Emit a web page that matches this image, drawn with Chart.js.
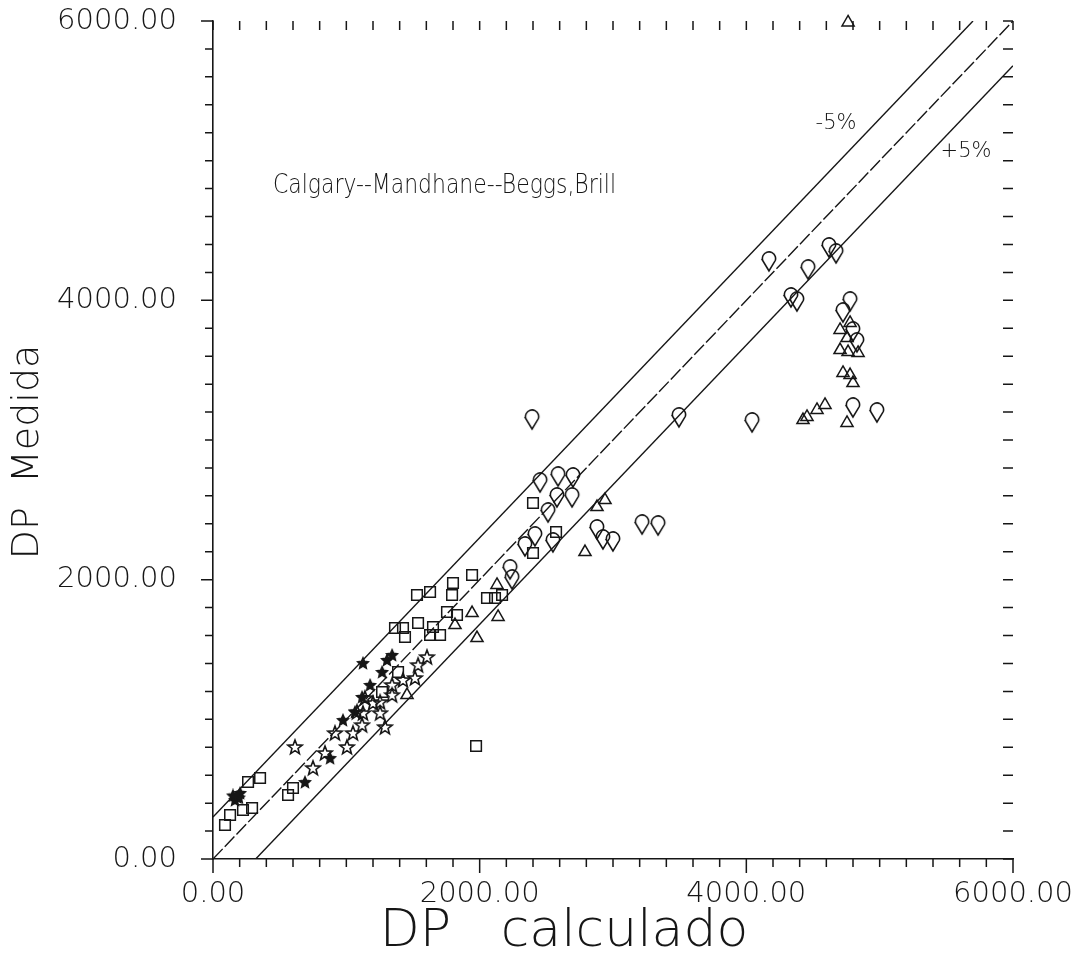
<!DOCTYPE html>
<html>
<head>
<meta charset="utf-8">
<script src="https://cdn.jsdelivr.net/npm/chart.js@4.4.1/dist/chart.umd.min.js"></script>
<style>
  html, body { margin: 0; padding: 0; background: #fff; }
  #wrap { width: 1072px; height: 957px; }
</style>
</head>
<body>
<div id="wrap"><canvas id="c" width="1072" height="957"></canvas></div>
<script>
// ---------------------------------------------------------------------------
// data  (DP calculado, DP medida)
// ---------------------------------------------------------------------------
const dropPts = [
  [2393, 3143], [2453, 2692], [2588, 2735], [2700, 2728], [2693, 2585],
  [2580, 2585], [2513, 2477], [2550, 2263], [2228, 2070], [2243, 1998],
  [2880, 2356], [2925, 2284], [3000, 2270], [3218, 2391], [3338, 2384],
  [3495, 3158], [4043, 3122], [4170, 4275], [4463, 4217], [4620, 4375],
  [4673, 4332], [4335, 4017], [4380, 3988], [4778, 3988], [4800, 3229],
  [4980, 3193], [2415, 2306], [2340, 2234], [4725, 3909], [4800, 3773],
  [4830, 3695]
];
const trianglePts = [
  [4763, 5990], [4703, 3644], [4763, 3630], [4838, 3623], [4725, 3480],
  [4778, 3465], [4800, 3408], [4590, 3251], [4530, 3215], [4755, 3122],
  [4455, 3165], [4425, 3143], [4703, 3788], [4755, 3730], [4778, 3838],
  [2790, 2198], [2940, 2570], [2880, 2520], [2130, 1962], [1815, 1675],
  [1943, 1761], [1980, 1582], [2138, 1733], [1455, 1174]
];
const squarePts = [
  [1973, 809], [1943, 2033], [1800, 1976], [1628, 1912], [1530, 1890],
  [1793, 1890], [1755, 1769], [1830, 1747], [1538, 1690], [1365, 1654],
  [1425, 1654], [1440, 1590], [1650, 1661], [1703, 1604], [1628, 1604],
  [2055, 1869], [2115, 1869], [2168, 1890], [2400, 2549], [2573, 2341],
  [2400, 2191], [1388, 1339], [1268, 1196], [90, 243], [128, 315],
  [225, 351], [263, 551], [353, 580], [293, 365], [563, 458], [600, 508]
];
const starPts = [
  [615, 802], [750, 652], [840, 759], [915, 902], [1005, 802],
  [1050, 902], [1080, 1053], [1125, 1045], [1253, 1045], [1290, 945],
  [1605, 1446], [1538, 1389], [1515, 1296], [1425, 1282], [1343, 1174],
  [1253, 1124], [1140, 1153], [1118, 959], [1343, 1246], [1200, 1117]
];
const filledPts = [
  [180, 444], [165, 422], [203, 473], [195, 440], [150, 455],
  [690, 551], [975, 995], [1065, 1053], [1118, 1160], [1178, 1246],
  [1268, 1339], [1305, 1425], [1343, 1461], [1125, 1403], [878, 723]
];
// reference lines: y = x and the -5% / +5% bands
const lineCenter = [[0, 0], [6000, 6000]];
const lineUpper = [[0, 300], [5700, 6000]];
const lineLower = [[320, 0], [6000, 5680]];

const axisMin = 0, axisMax = 6000, tickStep = 200, labelStep = 2000;

// ---------------------------------------------------------------------------
const INK = '#161616';
const FONT = '"DejaVu Sans", "Liberation Sans", sans-serif';

function toXY(list) { return list.map(p => ({ x: p[0], y: p[1] })); }

function makeSprite(w, h, draw) {
  const cv = document.createElement('canvas');
  cv.width = w; cv.height = h;
  const g = cv.getContext('2d');
  g.strokeStyle = INK; g.fillStyle = INK; g.lineWidth = 1.6;
  draw(g);
  return cv;
}

// the "shield" marker: round top, pointed bottom
const dropSprite = makeSprite(18, 22, g => {
  g.beginPath();
  g.moveTo(9, 20);
  g.lineTo(2.6, 9.5);
  g.arc(9, 7.5, 6.6, Math.PI * 0.9, Math.PI * 2.1);
  g.closePath();
  g.stroke();
});

function starPath(g, cx, cy, ro, ri) {
  g.beginPath();
  for (let i = 0; i < 10; i++) {
    const r = i % 2 ? ri : ro;
    const a = -Math.PI / 2 + i * Math.PI / 5;
    g.lineTo(cx + r * Math.cos(a), cy + r * Math.sin(a));
  }
  g.closePath();
}
const starSprite = makeSprite(18, 18, g => { starPath(g, 9, 9.5, 7.5, 3.2); g.stroke(); });
const filledSprite = makeSprite(14, 14, g => { starPath(g, 7, 7.5, 5.6, 2.6); g.fill(); g.stroke(); });

const refLine = (data, dash) => ({
  type: 'line', data: toXY(data), showLine: true, borderColor: INK,
  borderWidth: 1.4, borderDash: dash, pointRadius: 0, fill: false, order: 2
});
const marks = (data, style, radius) => ({
  data: toXY(data), pointStyle: style, pointRadius: radius,
  pointBorderColor: INK, pointBackgroundColor: 'rgba(0,0,0,0)',
  pointBorderWidth: 1.5, showLine: false, clip: false, order: 1
});

// ticks on all four sides + free texts
const framePlugin = {
  id: 'frame',
  afterDraw(chart) {
    const { ctx, chartArea: a, scales: { x, y } } = chart;
    ctx.save();
    ctx.strokeStyle = INK;
    ctx.lineWidth = 1.5;
    ctx.beginPath();
    for (let v = axisMin; v <= axisMax; v += tickStep) {
      const major = v % labelStep === 0;
      const px = x.getPixelForValue(v);
      const py = y.getPixelForValue(v);
      // bottom (outward), top (inward)
      ctx.moveTo(px, a.bottom); ctx.lineTo(px, a.bottom + (major ? 14 : 8));
      ctx.moveTo(px, a.top); ctx.lineTo(px, a.top + 9);
      // left (outward), right (inward)
      ctx.moveTo(a.left, py); ctx.lineTo(a.left - (major ? 12 : 8), py);
      ctx.moveTo(a.right, py); ctx.lineTo(a.right - 10, py);
    }
    ctx.stroke();

    ctx.fillStyle = INK;
    ctx.textBaseline = 'middle';
    ctx.textAlign = 'left';
    ctx.font = '200 27px ' + FONT;
    const ann = 'Calgary--Mandhane--Beggs,Brill';
    const w = ctx.measureText(ann).width;
    ctx.save();
    ctx.translate(273, 186);
    ctx.scale(343 / w, 1);
    ctx.fillText(ann, 0, 0);
    ctx.restore();

    ctx.font = '200 21px ' + FONT;
    ctx.textAlign = 'center';
    ctx.fillText('-5%', 836, 124);
    ctx.fillText('+5%', 966, 152);

    // axis titles
    ctx.font = '200 52px ' + FONT;
    ctx.fillText('DP   calculado', 564, 932);
    ctx.save();
    ctx.translate(28, 452);
    ctx.rotate(-Math.PI / 2);
    ctx.font = '200 38px ' + FONT;
    ctx.fillText('DP  Medida', 0, 0);
    ctx.restore();
    ctx.restore();
  }
};

const tickCfg = (pad) => ({
  stepSize: tickStep, autoSkip: false, maxRotation: 0, padding: pad,
  color: INK, font: { family: FONT, size: 29, weight: '200' },
  callback: v => (v % labelStep === 0 ? v.toFixed(2) : '')
});

new Chart(document.getElementById('c'), {
  type: 'scatter',
  data: {
    datasets: [
      refLine(lineUpper, []),
      refLine(lineCenter, [14, 3]),
      refLine(lineLower, []),
      marks(squarePts, 'rect', 7.5),
      marks(trianglePts, 'triangle', 7),
      marks(dropPts, dropSprite, 8),
      marks(starPts, starSprite, 7),
      marks(filledPts, filledSprite, 6)
    ]
  },
  options: {
    responsive: false,
    animation: false,
    layout: { padding: { top: 21, right: 59, left: 0, bottom: 0 } },
    plugins: { legend: { display: false }, tooltip: { enabled: false } },
    scales: {
      x: {
        type: 'linear', min: axisMin, max: axisMax,
        grid: { display: false, drawTicks: false },
        border: { display: true, color: INK, width: 1.6 },
        ticks: tickCfg(18),
        afterFit: s => { s.height = 98; s.paddingLeft = 0; s.paddingRight = 0; }
      },
      y: {
        type: 'linear', min: axisMin, max: axisMax,
        grid: { display: false, drawTicks: false },
        border: { display: true, color: INK, width: 1.6 },
        ticks: tickCfg(36),
        afterFit: s => { s.width = 213; s.paddingTop = 0; s.paddingBottom = 0; }
      }
    }
  },
  plugins: [framePlugin]
});
</script>
</body>
</html>
